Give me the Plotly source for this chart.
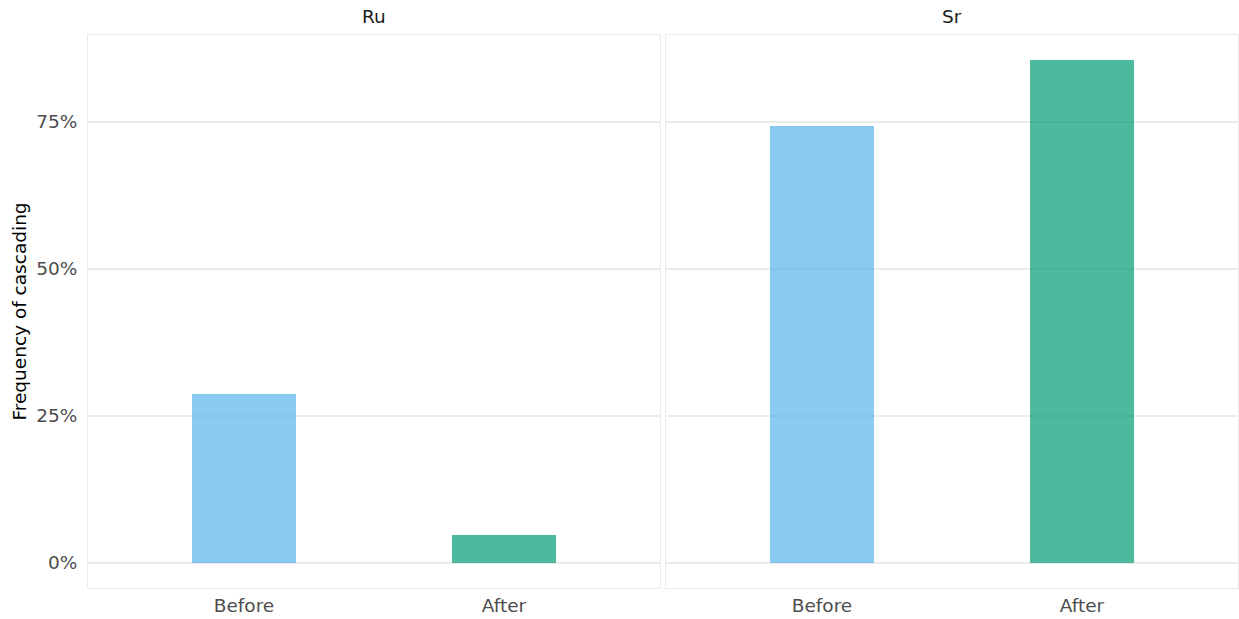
import plotly.graph_objects as go
from plotly.subplots import make_subplots

categories = ["Before", "After"]
panels = ["Ru", "Sr"]
ru_values = [0.287, 0.048]
sr_values = [0.743, 0.855]
bar_colors = ["rgba(86,180,233,0.7)", "rgba(0,158,115,0.7)"]

fig = make_subplots(rows=1, cols=2, shared_yaxes=True, horizontal_spacing=0.005)
for i, vals in enumerate([ru_values, sr_values]):
    fig.add_trace(go.Bar(x=categories, y=vals, marker=dict(color=bar_colors, line=dict(width=0)),
                         width=0.4, showlegend=False), row=1, col=i + 1)

W, H = 1239, 619
xd = [(88 / W, 660 / W), (666 / W, 1238 / W)]
yd = (1 - 588 / H, 1 - 35 / H)
grid = "#EBEBEB"
font = "DejaVu Sans"
fs = 18.5
for i in range(2):
    xa = "xaxis" if i == 0 else "xaxis2"
    ya = "yaxis" if i == 0 else "yaxis2"
    fig.layout[xa].update(domain=xd[i], range=[-0.6, 1.6], showgrid=False, showline=True, mirror=True,
                          linecolor=grid, linewidth=1, ticks="", zeroline=False, ticklabelstandoff=1,
                          tickfont=dict(family=font, size=fs, color="#4D4D4D"))
    fig.layout[ya].update(domain=yd, range=[-0.0428, 0.898], showgrid=True, gridcolor=grid, gridwidth=1.5,
                          showline=True, mirror=True, linecolor=grid, linewidth=1, zeroline=False,
                          tickvals=[0, 0.25, 0.5, 0.75], ticktext=["0%", "25%", "50%", "75%"], ticks="",
                          tickfont=dict(family=font, size=fs, color="#4D4D4D"), ticklabelstandoff=6,
                          showticklabels=(i == 0))
fig.layout.yaxis.update(title=dict(text="Frequency of cascading", font=dict(family=font, size=fs, color="black"),
                                   standoff=4))

for i, name in enumerate(panels):
    fig.add_annotation(text=name, x=(xd[i][0] + xd[i][1]) / 2, y=1 - 17 / H, xref="paper", yref="paper",
                       xanchor="center", yanchor="middle",
                       showarrow=False, font=dict(family=font, size=fs, color="#1A1A1A"))

fig.update_layout(width=W, height=H, margin=dict(l=0, r=0, t=0, b=0), plot_bgcolor="white",
                  paper_bgcolor="white", bargap=0)
fig.write_html("out.html", config={"displayModeBar": False},
               post_script="document.body.style.margin='0';document.body.style.padding='0';")
